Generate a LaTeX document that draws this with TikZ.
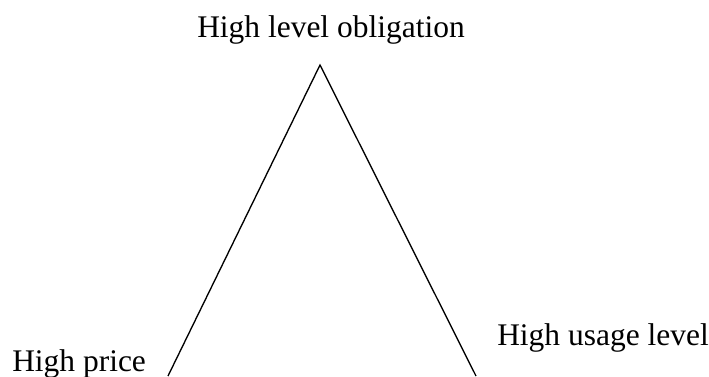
\documentclass[tikz,border=0pt]{standalone}
\usepackage{fontspec}
\setmainfont{Liberation Serif}
\usetikzlibrary{positioning}

\begin{document}
\begin{tikzpicture}[
    x=0.75pt, y=-0.75pt,
    lbl/.style={inner sep=0pt, anchor=base west, font=\fontsize{23.6}{28}\selectfont},
    side/.style={line width=1pt, black}
]
\useasboundingbox (0,0) rectangle (709,376);
\node[lbl] (top) at (197,37) {High level obligation};
\node[lbl] (price) at (12,371) {High price};
\node[lbl] (usage) at (497,345) {High usage level};

\coordinate (apex) at (320,65);
\coordinate (leftend) at (168,376);
\coordinate (rightend) at (476,376);
\draw[side] (leftend) -- (apex) -- (rightend);
\end{tikzpicture}
\end{document}
